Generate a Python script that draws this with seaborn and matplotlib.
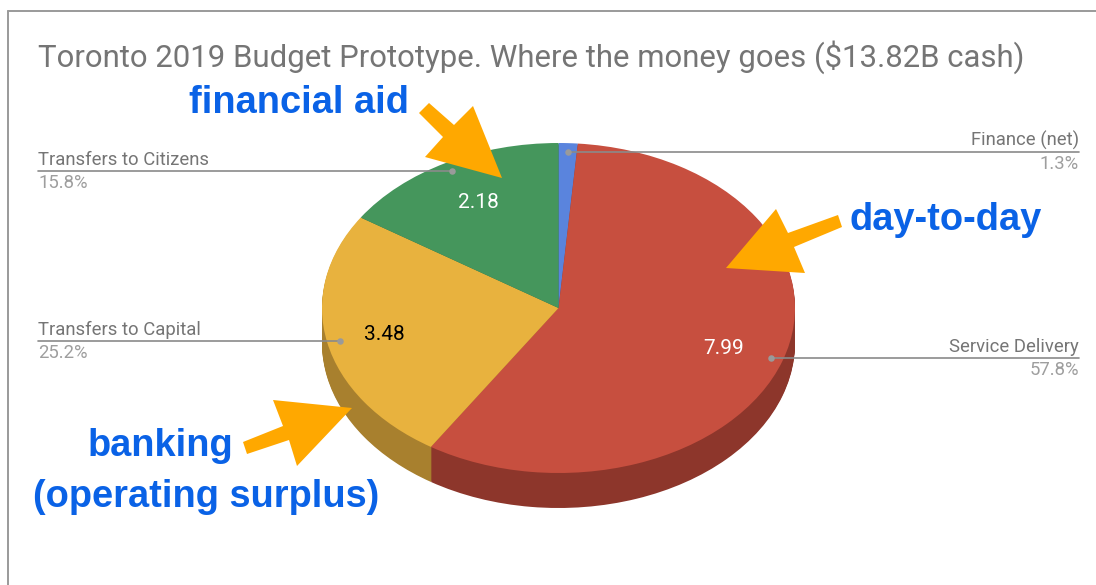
import matplotlib
matplotlib.use("Agg")
import matplotlib.pyplot as plt
import numpy as np
import seaborn as sns
from matplotlib.patches import Polygon

# chart values, in billions
categories = ["Finance (net)", "Service Delivery", "Transfers to Capital", "Transfers to Citizens"]
amounts = [0.18, 7.99, 3.48, 2.18]
percents = ["1.3%", "57.8%", "25.2%", "15.8%"]
amount_labels = ["2.18", "3.48", "7.99"]
title = "Toronto 2019 Budget Prototype. Where the money goes ($13.82B cash)"

top_colors = ["#5a84dd", "#c74f3f", "#e8b23e", "#45965c"]
side_colors = ["#3f5c9b", "#8d362b", "#a8802e", "#306941"]

sns.set_theme(style="white")
plt.rcParams["font.family"] = ["Roboto", "DejaVu Sans"]

W, H = 1096, 585
fig = plt.figure(figsize=(W / 100, H / 100), dpi=100, facecolor="white")

# pie axes, squashed so the circle comes out as the tilted ellipse
cx, cy, rx, ry, depth = 558.5, 308, 236.5, 165, 35
pie_ax = fig.add_axes([(cx - 1.25 * rx) / W, 1 - (cy + 1.25 * ry) / H, 2.5 * rx / W, 2.5 * ry / H])
for d in np.arange(depth, 0, -1):
    pie_ax.pie(amounts, colors=side_colors, startangle=90, counterclock=False,
               center=(0, -d / ry), wedgeprops={"linewidth": 0})
pie_ax.pie(amounts, colors=top_colors, startangle=90, counterclock=False,
           wedgeprops={"linewidth": 0})
pie_ax.set_aspect("auto")
pie_ax.set_xlim(-1.25, 1.25)
pie_ax.set_ylim(-1.25, 1.25)

# overlay in pixel coordinates for labels and annotations
ax = fig.add_axes([0, 0, 1, 1])
ax.set_xlim(0, W)
ax.set_ylim(H, 0)
ax.axis("off")
ax.patch.set_alpha(0)

# outer frame, only left and top are visible
ax.plot([8, 8], [H, 11], color="#9a9a9a", lw=1.4)
ax.plot([8, W], [11, 11], color="#9a9a9a", lw=1.4)

ax.text(38, 57, title, fontsize=22.4, color="#757575", va="center", ha="left")

# leader lines with their category and share
leaders = [(0, 568, 1079, 152, "right"), (1, 771, 1079, 358, "right"),
           (2, 38, 340, 341, "left"), (3, 38, 452, 171, "left")]
for i, x0, x1, y, side in leaders:
    ax.plot([x0, x1], [y, y], color="#8a8a8a", lw=1.2, zorder=3)
    dot_x = x0 if side == "right" else x1
    ax.scatter([dot_x], [y], s=22, color="#9a9a9a", lw=0, zorder=4)
    tx = x1 if side == "right" else x0
    ax.text(tx, y - 2, categories[i], fontsize=13.3, color="#757575", ha=side, va="bottom")
    ax.text(tx, y + 3, percents[i], fontsize=13.3, color="#9e9e9e", ha=side, va="top")

for label, x, y, col in zip(amount_labels, [478, 384, 724], [203, 335, 348], ["white", "black", "white"]):
    ax.text(x, y, label, fontsize=15, color=col, ha="center", va="center", zorder=5)

# hand drawn style arrows
arrow_color = "#ffa800"
arrows = [
    [(419, 113), (429, 103), (454, 125), (473, 106), (502, 178), (425, 157), (443, 137)],
    [(838, 215), (842, 227), (794, 247), (805, 273), (726, 268), (776, 209), (788, 233)],
    [(243, 442), (247, 454), (289, 440), (297, 466), (352, 408), (273, 400), (283, 426)],
]
for pts in arrows:
    ax.add_patch(Polygon(pts, closed=True, color=arrow_color, lw=0, zorder=6))

note_font = dict(family=["Liberation Sans", "DejaVu Sans"], fontweight="bold", color="#0a62e6",
                 fontsize=27.4, va="center", ha="center", zorder=7)
ax.text(299, 103, "financial aid", **note_font)
ax.text(946, 220, "day-to-day", **note_font)
ax.text(160, 446, "banking", **note_font)
ax.text(206.5, 497, "(operating surplus)", **note_font)

fig.savefig("out.png", dpi=100)
